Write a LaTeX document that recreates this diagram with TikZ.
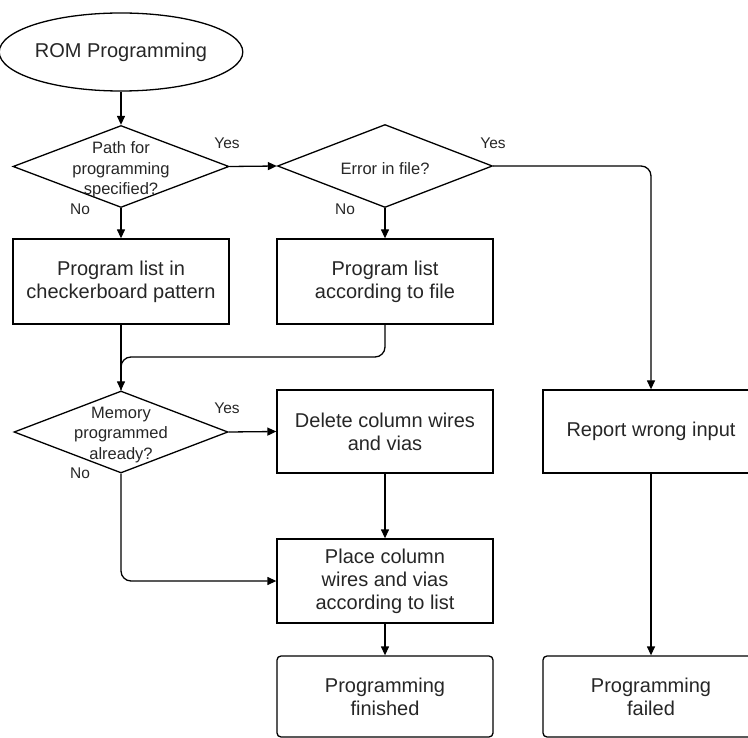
\documentclass[tikz,border=0pt]{standalone}
\usepackage{fontspec}
\setmainfont{Liberation Sans}
\usetikzlibrary{shapes.geometric,arrows.meta}
\definecolor{txt}{HTML}{262626}
\tikzset{
  line/.style={draw=black, line width=1.3pt},
  arrowline/.style={line, -{Triangle[length=9pt,width=8pt]}},
  box/.style={draw=black, line width=1.3pt, minimum width=216pt, minimum height=84pt,
    inner sep=0pt, align=center, font=\fontsize{20}{23}\selectfont, text=txt},
  endbox/.style={box, rounded corners=4pt},
  decision/.style={draw=black, diamond, line width=1.3pt, minimum width=216pt,
    minimum height=82pt, inner sep=0pt},
  dtext/.style={align=center, font=\fontsize{16.5}{20.5}\selectfont, text=txt},
  lab/.style={font=\fontsize{15.5}{18}\selectfont, text=txt},
}
\begin{document}
\begin{tikzpicture}[x=1pt, y=-1pt]
  \useasboundingbox (0,0) rectangle (748,738);
  \clip (0,0) rectangle (748,738);

  % start
  \node[draw=black, line width=1.3pt, ellipse, minimum width=218pt, minimum height=78pt,
        inner sep=0pt, font=\fontsize{20}{23}\selectfont, text=txt] (start) at (121,52) {ROM Programming};

  % decisions
  \node[decision] (d1) at (121,166.5) {};
  \node[dtext] (d1t) at (121,170) {Path for\\programming\\specified?};
  \node[decision, minimum width=215pt, minimum height=83pt] (d2) at (385,166) {};
  \node[dtext] (d2t) at (385,169) {Error in file?};
  \node[decision, minimum width=214pt] (d3) at (121,432) {};
  \node[dtext] (d3t) at (121,435) {Memory\\programmed\\already?};

  % process boxes
  \node[box, minimum height=85pt] (b1) at (121,281.5) {Program list in\\checkerboard pattern};
  \node[box, minimum height=85pt] (b2) at (385,281.5) {Program list\\according to file};
  \node[box, minimum height=83pt] (b3) at (385,431.5) {Delete column wires\\and vias};
  \node[box] (b4) at (385,581) {Place column\\wires and vias\\according to list};
  \node[box, minimum height=83pt] (b6) at (651,431.5) {Report wrong input};

  % end states
  \node[endbox, minimum height=81pt] (b5) at (385,696.5) {Programming\\finished};
  \node[endbox, minimum height=81pt] (b7) at (651,696.5) {Programming\\failed};

  % connectors
  \draw[arrowline] (start) -- (d1);
  \draw[arrowline] (d1.east) -- (d2.west);
  \draw[arrowline] (d1) -- (b1);
  \draw[arrowline] (d2) -- (b2);
  \draw[arrowline, rounded corners=10pt] (d2.east) -| (b6.north);
  \coordinate (merge) at (121,357);
  \draw[line, rounded corners=10pt] (b2.south) |- (merge) -- (d3.north);
  \draw[arrowline] (b1.south) -- (d3.north);
  \draw[arrowline] (d3.east) -- (b3.west);
  \draw[arrowline] (b3) -- (b4);
  \draw[arrowline, rounded corners=10pt] (d3.south) |- (b4.west);
  \draw[arrowline] (b4) -- (b5);
  \draw[arrowline] (b6) -- (b7);

  % branch labels
  \node[lab] (y1) at (227,143) {Yes};
  \node[lab] (n1) at (80,209) {No};
  \node[lab] (y2) at (493,143) {Yes};
  \node[lab] (n2) at (345,209) {No};
  \node[lab] (y3) at (227,408) {Yes};
  \node[lab] (n3) at (80,473) {No};
\end{tikzpicture}
\end{document}
